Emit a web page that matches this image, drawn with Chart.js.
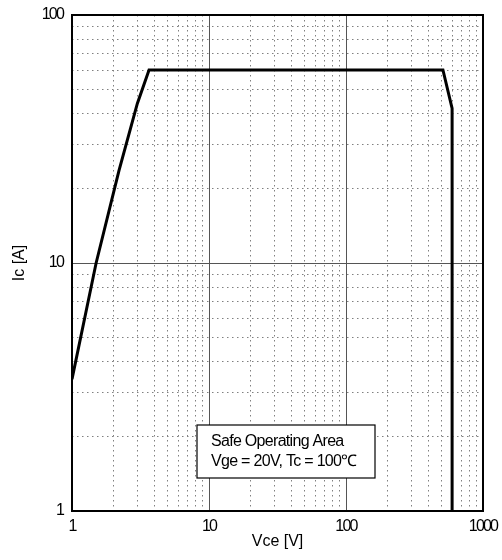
<!DOCTYPE html>
<html>
<head>
<meta charset="utf-8">
<script src="https://cdn.jsdelivr.net/npm/chart.js@4.4.0/dist/chart.umd.min.js"></script>
<style>
  html, body { margin: 0; padding: 0; background: #fff; }
  #wrap { width: 502px; height: 560px; }
</style>
</head>
<body>
<div id="wrap"><canvas id="soaChart"></canvas></div>
<script>
// SOA curve (Vce in V, Ic in A)
const vceValues = [1, 1.5, 2.2, 3.0, 3.65, 510, 595, 595];
const icValues  = [3.4, 10, 23.5, 44, 60, 60, 42, 1];

// decade labels and minor grid steps
const xDecades = [1, 10, 100, 1000];
const yDecades = [1, 10, 100];
const minorSteps = [2, 3, 4, 5, 6, 7, 8, 9];

const noteLines = ["Safe Operating Area", "Vge = 20V, Tc = 100\u2103"];

function isDecade(v) {
    const l = Math.log10(v);
    return Math.abs(l - Math.round(l)) < 1e-9;
}

// decades plus the 2..9 steps between them
function logTicks(decades) {
    const out = [];
    decades.forEach((d, i) => {
        out.push(d);
        if (i < decades.length - 1) minorSteps.forEach(m => out.push(d * m));
    });
    return out;
}

const fontFam = "'Liberation Sans', Arial, sans-serif";

const gridOpts = {
    color: ctx => (ctx.tick && isDecade(ctx.tick.value)) ? '#555' : '#808080',
    lineWidth: 1,
    drawTicks: false
};
const borderOpts = {
    display: false,
    dash: ctx => (ctx.tick && !isDecade(ctx.tick.value)) ? [1.5, 3.5] : []
};

// frame round the plot and the note box
const framePlugin = {
    id: 'frame',
    afterDatasetsDraw(chart) {
        // condensed digits on the tick labels (drawn after datasets, z = 1)
        chart.ctx.letterSpacing = '-1.8px';
    },
    afterDraw(chart) {
        const { ctx, chartArea: a } = chart;
        ctx.save();
        ctx.letterSpacing = '0px';
        ctx.strokeStyle = '#000';
        ctx.lineWidth = 2;
        ctx.strokeRect(a.left, a.top, a.right - a.left, a.bottom - a.top);

        // note box
        const bx = a.left + 125, by = a.top + 410, bw = 178, bh = 53;
        ctx.fillStyle = '#fff';
        ctx.fillRect(bx, by, bw, bh);
        ctx.lineWidth = 1.2;
        ctx.strokeRect(bx, by, bw, bh);
        ctx.fillStyle = '#000';
        ctx.font = "16px " + fontFam;
        ctx.letterSpacing = '-0.7px';
        ctx.textBaseline = 'alphabetic';
        ctx.textAlign = 'left';
        noteLines.forEach((t, i) => ctx.fillText(t, bx + 14, by + 21 + i * 20));
        ctx.restore();
        ctx.letterSpacing = '0px';
    }
};

new Chart(document.getElementById('soaChart'), {
    type: 'line',
    data: {
        datasets: [{
            label: 'SOA',
            data: vceValues.map((v, i) => ({ x: v, y: icValues[i] })),
            borderColor: '#000',
            borderWidth: 3,
            pointRadius: 0,
            tension: 0,
            fill: false,
            borderJoinStyle: 'miter'
        }]
    },
    options: {
        responsive: true,
        maintainAspectRatio: false,
        animation: false,
        layout: { padding: { top: 15, right: 19, left: 0, bottom: 0 } },
        plugins: { legend: { display: false }, tooltip: { enabled: false } },
        scales: {
            x: {
                type: 'logarithmic',
                min: 1,
                max: 1000,
                afterBuildTicks: s => { s.ticks = logTicks(xDecades).map(v => ({ value: v })); },
                afterFit: s => { s.height = 49; s.paddingRight = 0; s.paddingLeft = 0; },
                grid: gridOpts,
                border: borderOpts,
                ticks: {
                    z: 1,
                    autoSkip: false,
                    maxRotation: 0,
                    padding: 6,
                    color: '#000',
                    font: { family: fontFam, size: 16 },
                    callback: v => isDecade(v) ? String(v) : ''
                },
                title: {
                    display: true,
                    text: 'Vce [V]',
                    color: '#000',
                    font: { family: fontFam, size: 16 },
                    padding: { top: 0, bottom: 9 }
                }
            },
            y: {
                type: 'logarithmic',
                min: 1,
                max: 100,
                afterBuildTicks: s => { s.ticks = logTicks(yDecades).map(v => ({ value: v })); },
                afterFit: s => { s.width = 72; s.paddingTop = 0; s.paddingBottom = 0; },
                grid: gridOpts,
                border: borderOpts,
                ticks: {
                    z: 1,
                    autoSkip: false,
                    padding: 9,
                    color: '#000',
                    font: { family: fontFam, size: 16 },
                    callback: v => isDecade(v) ? String(v) : ''
                },
                title: {
                    display: true,
                    text: 'Ic [A]',
                    color: '#000',
                    font: { family: fontFam, size: 16 },
                    padding: { top: 10, bottom: 0 }
                }
            }
        }
    },
    plugins: [framePlugin]
});
</script>
</body>
</html>
